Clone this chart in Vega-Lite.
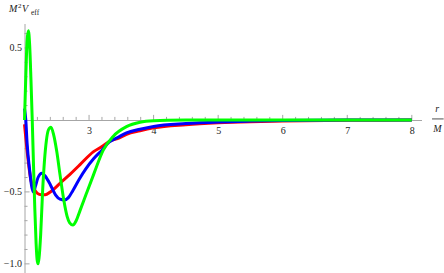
{
  "$schema": "https://vega.github.io/schema/vega-lite/v6.json",
  "width": 397,
  "height": 249,
  "autosize": {"type": "none"},
  "padding": {"left": 24.5, "top": 23.5, "right": 22.5, "bottom": 0.5},
  "background": "white",
  "config": {
    "view": {"stroke": null},
    "axis": {"grid": false, "labelFont": "Liberation Serif", "labelFontSize": 10, "labelColor": "#222", "domainColor": "#a6a6a6", "domainWidth": 1, "ticks": false, "labelOverlap": false, "labelFlush": false, "labelBound": false, "title": null}
  },
  "datasets": {
    "curves": [
      {"r": 2.00, "v": -0.03, "s": "A"}, {"r": 2.03, "v": -0.17, "s": "A"}, {"r": 2.07, "v": -0.33, "s": "A"}, {"r": 2.10, "v": -0.42, "s": "A"}, {"r": 2.14, "v": -0.47, "s": "A"}, {"r": 2.20, "v": -0.51, "s": "A"}, {"r": 2.26, "v": -0.52, "s": "A"}, {"r": 2.32, "v": -0.52, "s": "A"}, {"r": 2.40, "v": -0.50, "s": "A"}, {"r": 2.48, "v": -0.47, "s": "A"}, {"r": 2.55, "v": -0.44, "s": "A"}, {"r": 2.70, "v": -0.38, "s": "A"}, {"r": 2.86, "v": -0.31, "s": "A"}, {"r": 3.07, "v": -0.22, "s": "A"}, {"r": 3.20, "v": -0.185, "s": "A"}, {"r": 3.31, "v": -0.15, "s": "A"}, {"r": 3.47, "v": -0.125, "s": "A"}, {"r": 3.58, "v": -0.10, "s": "A"}, {"r": 3.79, "v": -0.075, "s": "A"}, {"r": 4.0, "v": -0.055, "s": "A"}, {"r": 4.5, "v": -0.033, "s": "A"}, {"r": 5.0, "v": -0.02, "s": "A"}, {"r": 5.5, "v": -0.012, "s": "A"}, {"r": 6.0, "v": -0.007, "s": "A"}, {"r": 7.0, "v": -0.003, "s": "A"}, {"r": 8.0, "v": -0.001, "s": "A"},
      {"r": 2.00, "v": 0.08, "s": "B"}, {"r": 2.02, "v": 0.0, "s": "B"}, {"r": 2.04, "v": -0.16, "s": "B"}, {"r": 2.08, "v": -0.35, "s": "B"}, {"r": 2.115, "v": -0.47, "s": "B"}, {"r": 2.14, "v": -0.50, "s": "B"}, {"r": 2.17, "v": -0.46, "s": "B"}, {"r": 2.21, "v": -0.40, "s": "B"}, {"r": 2.27, "v": -0.37, "s": "B"}, {"r": 2.32, "v": -0.39, "s": "B"}, {"r": 2.40, "v": -0.45, "s": "B"}, {"r": 2.48, "v": -0.52, "s": "B"}, {"r": 2.55, "v": -0.55, "s": "B"}, {"r": 2.62, "v": -0.556, "s": "B"}, {"r": 2.68, "v": -0.54, "s": "B"}, {"r": 2.75, "v": -0.49, "s": "B"}, {"r": 2.85, "v": -0.41, "s": "B"}, {"r": 2.95, "v": -0.34, "s": "B"}, {"r": 3.07, "v": -0.27, "s": "B"}, {"r": 3.20, "v": -0.21, "s": "B"}, {"r": 3.31, "v": -0.155, "s": "B"}, {"r": 3.45, "v": -0.12, "s": "B"}, {"r": 3.58, "v": -0.09, "s": "B"}, {"r": 3.79, "v": -0.065, "s": "B"}, {"r": 4.0, "v": -0.045, "s": "B"}, {"r": 4.5, "v": -0.025, "s": "B"}, {"r": 5.0, "v": -0.014, "s": "B"}, {"r": 5.5, "v": -0.008, "s": "B"}, {"r": 6.0, "v": -0.004, "s": "B"}, {"r": 7.0, "v": -0.001, "s": "B"}, {"r": 8.0, "v": 0.0, "s": "B"},
      {"r": 2.00, "v": 0.0, "s": "C"}, {"r": 2.02, "v": 0.30, "s": "C"}, {"r": 2.04, "v": 0.55, "s": "C"}, {"r": 2.06, "v": 0.62, "s": "C"}, {"r": 2.08, "v": 0.52, "s": "C"}, {"r": 2.10, "v": 0.28, "s": "C"}, {"r": 2.12, "v": 0.0, "s": "C"}, {"r": 2.14, "v": -0.32, "s": "C"}, {"r": 2.16, "v": -0.62, "s": "C"}, {"r": 2.18, "v": -0.86, "s": "C"}, {"r": 2.195, "v": -0.97, "s": "C"}, {"r": 2.21, "v": -1.0, "s": "C"}, {"r": 2.225, "v": -0.96, "s": "C"}, {"r": 2.25, "v": -0.80, "s": "C"}, {"r": 2.28, "v": -0.50, "s": "C"}, {"r": 2.31, "v": -0.28, "s": "C"}, {"r": 2.34, "v": -0.14, "s": "C"}, {"r": 2.37, "v": -0.07, "s": "C"}, {"r": 2.41, "v": -0.05, "s": "C"}, {"r": 2.45, "v": -0.10, "s": "C"}, {"r": 2.50, "v": -0.22, "s": "C"}, {"r": 2.55, "v": -0.38, "s": "C"}, {"r": 2.61, "v": -0.56, "s": "C"}, {"r": 2.66, "v": -0.67, "s": "C"}, {"r": 2.70, "v": -0.715, "s": "C"}, {"r": 2.75, "v": -0.73, "s": "C"}, {"r": 2.80, "v": -0.70, "s": "C"}, {"r": 2.86, "v": -0.63, "s": "C"}, {"r": 2.96, "v": -0.51, "s": "C"}, {"r": 3.07, "v": -0.38, "s": "C"}, {"r": 3.22, "v": -0.21, "s": "C"}, {"r": 3.37, "v": -0.116, "s": "C"}, {"r": 3.58, "v": -0.047, "s": "C"}, {"r": 3.79, "v": -0.016, "s": "C"}, {"r": 4.0, "v": -0.006, "s": "C"}, {"r": 4.5, "v": -0.001, "s": "C"}, {"r": 5.0, "v": 0.0, "s": "C"}, {"r": 6.0, "v": 0.0, "s": "C"}, {"r": 7.0, "v": 0.0, "s": "C"}, {"r": 8.0, "v": 0.0, "s": "C"}
    ],
    "xmajor": [{"t": 3}, {"t": 4}, {"t": 5}, {"t": 6}, {"t": 7}, {"t": 8}],
    "xminor": [{"t": 2.2}, {"t": 2.4}, {"t": 2.6}, {"t": 2.8}, {"t": 3.2}, {"t": 3.4}, {"t": 3.6}, {"t": 3.8}, {"t": 4.2}, {"t": 4.4}, {"t": 4.6}, {"t": 4.8}, {"t": 5.2}, {"t": 5.4}, {"t": 5.6}, {"t": 5.8}, {"t": 6.2}, {"t": 6.4}, {"t": 6.6}, {"t": 6.8}, {"t": 7.2}, {"t": 7.4}, {"t": 7.6}, {"t": 7.8}],
    "ymajor": [{"t": -1.0}, {"t": -0.5}, {"t": 0.5}],
    "yminor": [{"t": -0.9}, {"t": -0.8}, {"t": -0.7}, {"t": -0.6}, {"t": -0.4}, {"t": -0.3}, {"t": -0.2}, {"t": -0.1}, {"t": 0.1}, {"t": 0.2}, {"t": 0.3}, {"t": 0.4}, {"t": 0.6}],
    "one": [{}]
  },
  "layer": [
    {
      "data": {"name": "xmajor"},
      "mark": {"type": "rule", "color": "#a6a6a6", "strokeWidth": 1},
      "encoding": {"x": {"field": "t", "type": "quantitative"}, "y": {"datum": 0}, "y2": {"datum": 0.035}}
    },
    {
      "data": {"name": "xminor"},
      "mark": {"type": "rule", "color": "#a6a6a6", "strokeWidth": 1},
      "encoding": {"x": {"field": "t", "type": "quantitative"}, "y": {"datum": 0}, "y2": {"datum": 0.021}}
    },
    {
      "data": {"name": "ymajor"},
      "mark": {"type": "rule", "color": "#a6a6a6", "strokeWidth": 1},
      "encoding": {"y": {"field": "t", "type": "quantitative"}, "x": {"datum": 2}, "x2": {"datum": 2.078}}
    },
    {
      "data": {"name": "yminor"},
      "mark": {"type": "rule", "color": "#a6a6a6", "strokeWidth": 1},
      "encoding": {"y": {"field": "t", "type": "quantitative"}, "x": {"datum": 2}, "x2": {"datum": 2.047}}
    },
    {
      "data": {"name": "curves"},
      "mark": {"type": "line", "strokeWidth": 3, "interpolate": "monotone"},
      "encoding": {
        "x": {
          "field": "r", "type": "quantitative",
          "scale": {"domain": [2, 8.15], "nice": false, "zero": false},
          "axis": {
            "orient": "bottom", "offset": -152.5,
            "values": [3, 4, 5, 6, 7, 8],
            "format": "d",
            "labelFont": "Liberation Serif",
            "labelFontSize": 10,
            "labelPadding": 5
          }
        },
        "y": {
          "field": "v", "type": "quantitative",
          "scale": {"domain": [-1.06, 0.67], "nice": false, "zero": false},
          "axis": {
            "orient": "left",
            "values": [-1.0, -0.5, 0.5],
            "format": ".1f",
            "labelFont": "Liberation Serif",
            "labelFontSize": 10,
            "labelPadding": 3
          }
        },
        "color": {
          "field": "s", "type": "nominal",
          "scale": {"domain": ["A", "B", "C"], "range": ["#ff0000", "#0000ff", "#00ff00"]},
          "legend": null
        }
      }
    },
    {
      "data": {"name": "one"},
      "mark": {"type": "text", "text": "M", "font": "Liberation Serif", "color": "#222", "fontStyle": "italic", "fontSize": 10, "align": "left", "baseline": "alphabetic", "dx": -15.5},
      "encoding": {"x": {"datum": 2}, "y": {"datum": 0.747}}
    },
    {
      "data": {"name": "one"},
      "mark": {"type": "text", "text": "2", "font": "Liberation Serif", "color": "#222", "fontSize": 7, "align": "left", "baseline": "alphabetic", "dx": -6.5},
      "encoding": {"x": {"datum": 2}, "y": {"datum": 0.775}}
    },
    {
      "data": {"name": "one"},
      "mark": {"type": "text", "text": "V", "font": "Liberation Serif", "color": "#222", "fontStyle": "italic", "fontSize": 10, "align": "left", "baseline": "alphabetic", "dx": -2.5},
      "encoding": {"x": {"datum": 2}, "y": {"datum": 0.747}}
    },
    {
      "data": {"name": "one"},
      "mark": {"type": "text", "text": "eff", "font": "Liberation Serif", "color": "#222", "fontSize": 7.5, "align": "left", "baseline": "alphabetic", "dx": 6.5},
      "encoding": {"x": {"datum": 2}, "y": {"datum": 0.728}}
    },
    {
      "data": {"name": "one"},
      "mark": {"type": "text", "text": "r", "font": "Liberation Serif", "color": "#222", "fontStyle": "italic", "fontSize": 10, "align": "center", "baseline": "alphabetic"},
      "encoding": {"x": {"datum": 8.395}, "y": {"datum": 0.052}}
    },
    {
      "data": {"name": "one"},
      "mark": {"type": "text", "text": "M", "font": "Liberation Serif", "color": "#222", "fontStyle": "italic", "fontSize": 10, "align": "center", "baseline": "alphabetic"},
      "encoding": {"x": {"datum": 8.395}, "y": {"datum": -0.087}}
    },
    {
      "data": {"name": "one"},
      "mark": {"type": "rule", "color": "#222", "strokeWidth": 0.8},
      "encoding": {"x": {"datum": 8.313}, "x2": {"datum": 8.493}, "y": {"datum": 0.007}}
    }
  ]
}
